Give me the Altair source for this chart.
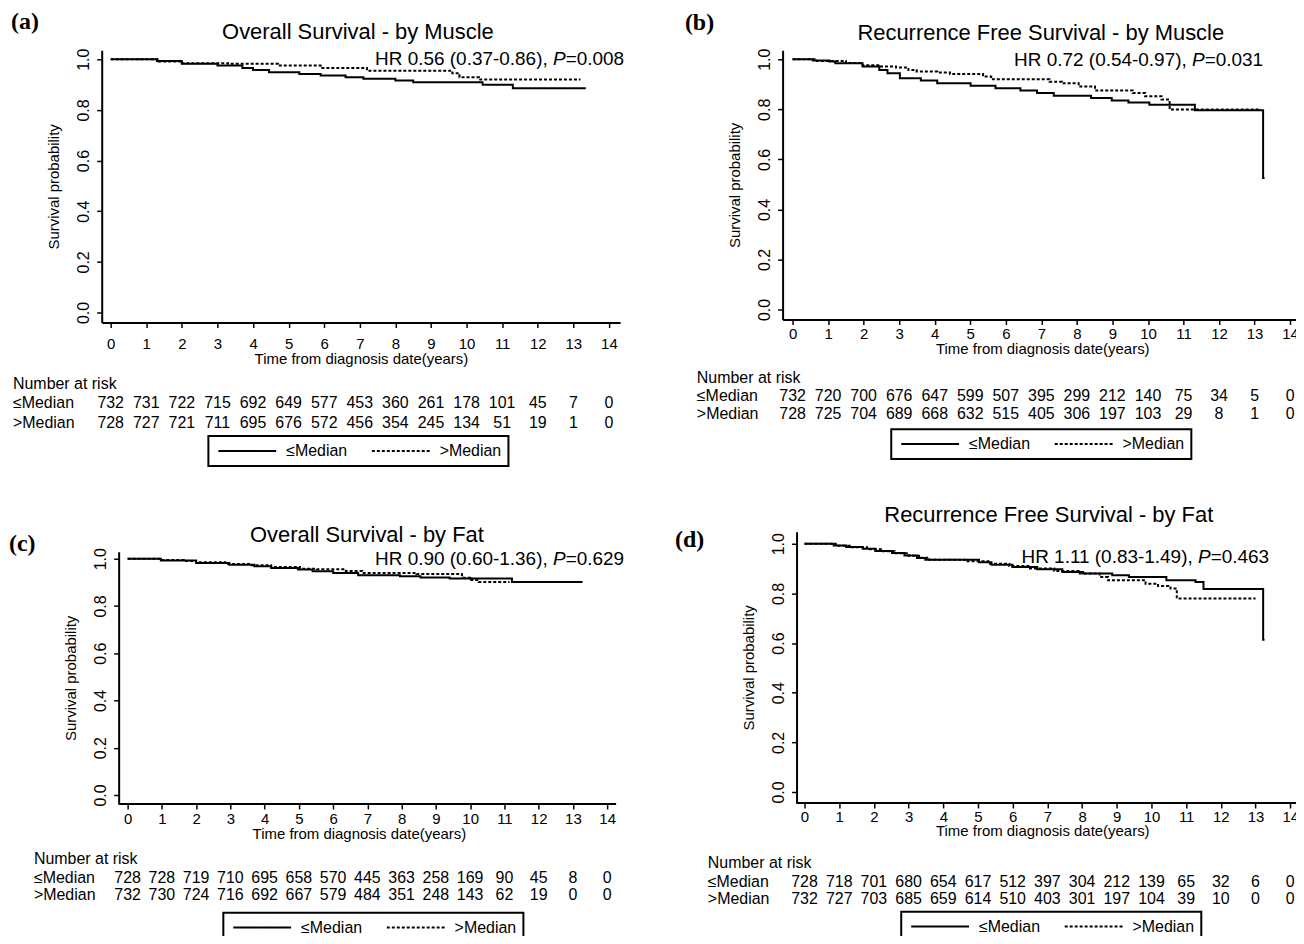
import altair as alt
import pandas as pd

GROUPS = ["≤Median", ">Median"]
YEARS = list(range(15))
Y_TICKS = [0.0, 0.2, 0.4, 0.6, 0.8, 1.0]

# ---------------- data ----------------
# (a) Overall survival by muscle
a_lo_t = [0, 1.3, 2.0, 3.0, 3.7, 4.0, 4.45, 5.3, 5.9, 6.6, 7.1, 8.0, 8.5, 10.45, 11.3, 13.35]
a_lo_s = [1.0, 0.993, 0.982, 0.975, 0.966, 0.958, 0.949, 0.942, 0.936, 0.929, 0.923, 0.916, 0.909, 0.899, 0.886, 0.886]
a_hi_t = [0, 1.35, 2.0, 3.3, 4.7, 5.9, 7.2, 9.6, 9.8, 10.35, 13.2]
a_hi_s = [1.0, 0.991, 0.984, 0.982, 0.975, 0.966, 0.955, 0.945, 0.929, 0.920, 0.920]
# (b) Recurrence free survival by muscle
b_lo_t = [0, 0.57, 1.04, 1.2, 1.97, 2.44, 2.67, 3.02, 3.61, 4.07, 5.01, 5.71, 6.41, 6.88, 7.35, 8.4, 8.98, 9.45, 10.04, 11.32, 13.24, 13.28]
b_lo_s = [1.0, 0.995, 0.991, 0.984, 0.971, 0.957, 0.944, 0.924, 0.915, 0.904, 0.894, 0.884, 0.875, 0.865, 0.854, 0.845, 0.835, 0.827, 0.818, 0.796, 0.526, 0.526]
b_hi_t = [0, 0.69, 1.5, 1.97, 2.44, 2.91, 3.26, 3.49, 4.07, 4.43, 5.36, 5.59, 7.23, 7.58, 8.05, 8.51, 9.57, 9.92, 10.38, 10.61, 13.18]
b_hi_s = [1.0, 0.993, 0.985, 0.976, 0.971, 0.967, 0.957, 0.951, 0.947, 0.941, 0.931, 0.92, 0.91, 0.904, 0.891, 0.875, 0.865, 0.852, 0.839, 0.799, 0.799]
# (c) Overall survival by fat
c_lo_t = [0, 0.97, 2.0, 2.97, 3.7, 4.19, 4.97, 5.4, 6.0, 6.73, 7.95, 8.55, 9.4, 11.22, 13.28]
c_lo_s = [1.0, 0.992, 0.982, 0.975, 0.968, 0.961, 0.954, 0.947, 0.94, 0.93, 0.926, 0.921, 0.916, 0.902, 0.902]
c_hi_t = [0, 0.97, 1.64, 2.0, 2.85, 3.58, 4.19, 5.03, 5.52, 6.37, 6.85, 8.43, 9.76, 10.0, 10.25, 11.15]
c_hi_s = [1.0, 0.995, 0.99, 0.985, 0.978, 0.972, 0.965, 0.958, 0.955, 0.948, 0.94, 0.935, 0.92, 0.91, 0.902, 0.902]
# (d) Recurrence free survival by fat
d_lo_t = [0, 0.84, 1.2, 1.68, 2.04, 2.52, 2.88, 3.24, 3.48, 5.03, 5.39, 5.99, 6.71, 7.43, 8.03, 8.87, 9.35, 10.43, 11.27, 11.5, 13.22, 13.26]
d_lo_s = [1.0, 0.993, 0.987, 0.98, 0.971, 0.963, 0.953, 0.943, 0.936, 0.926, 0.916, 0.906, 0.897, 0.886, 0.88, 0.873, 0.866, 0.853, 0.846, 0.818, 0.613, 0.613]
d_hi_t = [0, 0.9, 1.3, 1.8, 2.2, 2.6, 3.0, 3.3, 3.6, 4.7, 5.3, 5.9, 6.5, 7.2, 7.9, 8.51, 8.75, 9.83, 10.19, 10.55, 10.73, 13.0]
d_hi_s = [1.0, 0.992, 0.986, 0.978, 0.97, 0.962, 0.952, 0.944, 0.936, 0.93, 0.92, 0.91, 0.9, 0.89, 0.88, 0.866, 0.853, 0.839, 0.83, 0.82, 0.78, 0.78]

# number at risk
risk_a_lo = [732, 731, 722, 715, 692, 649, 577, 453, 360, 261, 178, 101, 45, 7, 0]
risk_a_hi = [728, 727, 721, 711, 695, 676, 572, 456, 354, 245, 134, 51, 19, 1, 0]
risk_b_lo = [732, 720, 700, 676, 647, 599, 507, 395, 299, 212, 140, 75, 34, 5, 0]
risk_b_hi = [728, 725, 704, 689, 668, 632, 515, 405, 306, 197, 103, 29, 8, 1, 0]
risk_c_lo = [728, 728, 719, 710, 695, 658, 570, 445, 363, 258, 169, 90, 45, 8, 0]
risk_c_hi = [732, 730, 724, 716, 692, 667, 579, 484, 351, 248, 143, 62, 19, 0, 0]
risk_d_lo = [728, 718, 701, 680, 654, 617, 512, 397, 304, 212, 139, 65, 32, 6, 0]
risk_d_hi = [732, 727, 703, 685, 659, 614, 510, 403, 301, 197, 104, 39, 10, 0, 0]

tags = ["(a)", "(b)", "(c)", "(d)"]
titles = ["Overall Survival - by Muscle", "Recurrence Free Survival - by Muscle",
          "Overall Survival - by Fat", "Recurrence Free Survival - by Fat"]
hr_heads = ["HR 0.56 (0.37-0.86),", "HR 0.72 (0.54-0.97),", "HR 0.90 (0.60-1.36),", "HR 1.11 (0.83-1.49),"]
hr_tails = ["=0.008", "=0.031", "=0.629", "=0.463"]

# ---------------- layout (reference pixel positions) ----------------
# pl: plot origin (shared per column), axl: where the y axis line is drawn
LAYOUTS = [
    dict(pl=101, axl=101, pt=48, pr=621, pb=321, x0=110, kx=35.7, y1=57, y0=311, tag=(10, 20),
         title=(358, 30), hr=(625, 57), tbl_x=12, tbl_y=(383, 402, 422), leg=(208, 435),
         xpad=9, xtpad=0),
    dict(pl=783, axl=783, pt=47, pr=1304, pb=317, x0=793, kx=35.65, y1=56, y0=307, tag=(685, 20),
         title=(1042, 30), hr=(1265, 57), tbl_x=697, tbl_y=(376, 394, 412), leg=(892, 427),
         xpad=2, xtpad=0),
    dict(pl=101, axl=118, pt=550, pr=617, pb=803, x0=127, kx=34.36, y1=557, y0=794, tag=(8, 542),
         title=(367, 533), hr=(625, 557), tbl_x=33, tbl_y=(858, 877, 894), leg=(223, 912),
         xpad=3, xtpad=0),
    dict(pl=783, axl=797, pt=530, pr=1304, pb=802, x0=805, kx=34.8, y1=542, y0=791, tag=(675, 538),
         title=(1050, 513), hr=(1271, 555), tbl_x=708, tbl_y=(862, 881, 898), leg=(902, 911),
         xpad=2, xtpad=-1),
]

SANS = "Liberation Sans"
SERIF = "Liberation Serif"


def panel(i, lo_t, lo_s, hi_t, hi_s, risk_lo, risk_hi):
    lay = LAYOUTS[i]
    kx, x0 = lay["kx"], lay["x0"]
    ky = lay["y0"] - lay["y1"]

    def X(px):
        return (px - x0) / kx

    def Y(py):
        return (lay["y0"] - py) / ky

    W = lay["pr"] - lay["pl"]
    H = lay["pb"] - lay["pt"]
    inset = lay["axl"] - lay["pl"]
    xs = alt.Scale(domain=[X(lay["pl"]), X(lay["pr"])], nice=False, zero=False)
    ys = alt.Scale(domain=[Y(lay["pb"]), Y(lay["pt"])], nice=False, zero=False)
    xaxis = alt.Axis(
        values=YEARS, format="d", title="Time from diagnosis date(years)", grid=False,
        labelFont=SANS, labelFontSize=15, labelColor="black", labelPadding=lay["xpad"],
        labelFlush=False, labelOverlap=False, tickSize=5, tickWidth=1.5, tickColor="black",
        domain=(inset == 0), domainColor="black", domainWidth=2, titleFont=SANS, titleFontSize=15,
        titleFontWeight="normal", titleColor="black", titlePadding=lay["xtpad"])
    yaxis = alt.Axis(
        values=Y_TICKS, format=".1f", title="Survival probability", grid=False, offset=-inset,
        labelFont=SANS, labelFontSize=16, labelColor="black", labelAngle=270,
        labelAlign="center", labelBaseline="bottom", labelPadding=5, labelOverlap=False,
        labelFlush=False, tickSize=5, tickWidth=1.5, tickColor="black",
        domainColor="black", domainWidth=2, titleFont=SANS, titleFontSize=15,
        titleFontWeight="normal", titleColor="black", titlePadding=14)

    curves = pd.DataFrame({
        "time": lo_t + hi_t,
        "surv": lo_s + hi_s,
        "group": [GROUPS[0]] * len(lo_t) + [GROUPS[1]] * len(hi_t),
    })
    lines = alt.Chart(curves).mark_line(interpolate="step-after", color="black", strokeWidth=2).encode(
        x=alt.X("time:Q", scale=xs, axis=xaxis),
        y=alt.Y("surv:Q", scale=ys, axis=yaxis),
        strokeDash=alt.StrokeDash("group:N", scale=alt.Scale(domain=GROUPS, range=[[1, 0], [3, 2]]),
                                  legend=alt.Legend(
                                      orient="none", legendX=lay["leg"][0] - lay["pl"],
                                      legendY=lay["leg"][1] - lay["pt"], direction="horizontal",
                                      title=None, symbolType="M-5.8,0H5.8", symbolSize=100,
                                      symbolOffset=24, symbolStrokeWidth=2,
                                      symbolStrokeColor="black", symbolFillColor="black",
                                      labelFont=SANS, labelFontSize=16, labelColor="black",
                                      labelOffset=31, columnPadding=20, padding=7,
                                      strokeColor="black")),
    )

    def txt(df, **kw):
        return alt.Chart(df).mark_text(color="black", **kw).encode(
            x=alt.X("x:Q", scale=xs, axis=xaxis),
            y=alt.Y("y:Q", scale=ys, axis=yaxis),
            text="t:N",
        )

    r1, r2 = Y(lay["tbl_y"][1]), Y(lay["tbl_y"][2])
    counts = pd.DataFrame({
        "x": YEARS + YEARS,
        "y": [r1] * len(YEARS) + [r2] * len(YEARS),
        "t": [str(v) for v in risk_lo + risk_hi],
    })
    row_labels = pd.DataFrame({
        "x": [X(lay["tbl_x"])] * 3,
        "y": [Y(v) for v in lay["tbl_y"]],
        "t": ["Number at risk"] + GROUPS,
    })
    hr_r, hr_y = lay["hr"]
    tail_w, p_w, sp_w = 58.6, 12.7, 5.3
    title_df = pd.DataFrame({"x": [X(lay["title"][0])], "y": [Y(lay["title"][1])], "t": [titles[i]]})
    head_df = pd.DataFrame({"x": [X(hr_r - tail_w - p_w - sp_w)], "y": [Y(hr_y)], "t": [hr_heads[i]]})
    p_df = pd.DataFrame({"x": [X(hr_r - tail_w)], "y": [Y(hr_y)], "t": ["P"]})
    tail_df = pd.DataFrame({"x": [X(hr_r - tail_w)], "y": [Y(hr_y)], "t": [hr_tails[i]]})
    tag_df = pd.DataFrame({"x": [X(lay["tag"][0])], "y": [Y(lay["tag"][1])], "t": [tags[i]]})

    layers = [
        lines,
        txt(counts, align="center", baseline="middle", font=SANS, fontSize=16),
        txt(row_labels, align="left", baseline="middle", font=SANS, fontSize=16),
        txt(title_df, align="center", baseline="middle", font=SANS, fontSize=22),
        txt(head_df, align="right", baseline="middle", font=SANS, fontSize=19),
        txt(p_df, align="right", baseline="middle", font=SANS, fontSize=19, fontStyle="italic"),
        txt(tail_df, align="left", baseline="middle", font=SANS, fontSize=19),
        txt(tag_df, align="left", baseline="middle", font=SERIF, fontSize=24, fontWeight="bold"),
    ]
    if inset:
        # x axis line starts at the (inset) y axis
        base = pd.DataFrame({"x": [X(lay["axl"])], "x2": [X(lay["pr"])], "y": [Y(lay["pb"])]})
        layers.append(alt.Chart(base).mark_rule(color="black", strokeWidth=2).encode(
            x=alt.X("x:Q", scale=xs, axis=xaxis), x2="x2:Q",
            y=alt.Y("y:Q", scale=ys, axis=yaxis)))
    return alt.layer(*layers).properties(width=W, height=H)


pa = panel(0, a_lo_t, a_lo_s, a_hi_t, a_hi_s, risk_a_lo, risk_a_hi)
pb = panel(1, b_lo_t, b_lo_s, b_hi_t, b_hi_s, risk_b_lo, risk_b_hi)
pc = panel(2, c_lo_t, c_lo_s, c_hi_t, c_hi_s, risk_c_lo, risk_c_hi)
pd_ = panel(3, d_lo_t, d_lo_s, d_hi_t, d_hi_s, risk_d_lo, risk_d_hi)

left = alt.vconcat(pa, pc, spacing=56).resolve_scale(
    strokeDash="independent").resolve_legend(strokeDash="independent")
right = alt.vconcat(pb, pd_, spacing=44).resolve_scale(
    strokeDash="independent").resolve_legend(strokeDash="independent")

chart = alt.hconcat(left, right, spacing=50).resolve_scale(
    strokeDash="independent").resolve_legend(strokeDash="independent").properties(
    padding={"left": 0, "top": 0, "right": -7, "bottom": -9},
    background="white",
).configure(font=SANS).configure_view(strokeWidth=0).configure_legend(strokeWidth=2)

chart.save("out.html", embed_options={"renderer": "svg", "actions": False})
